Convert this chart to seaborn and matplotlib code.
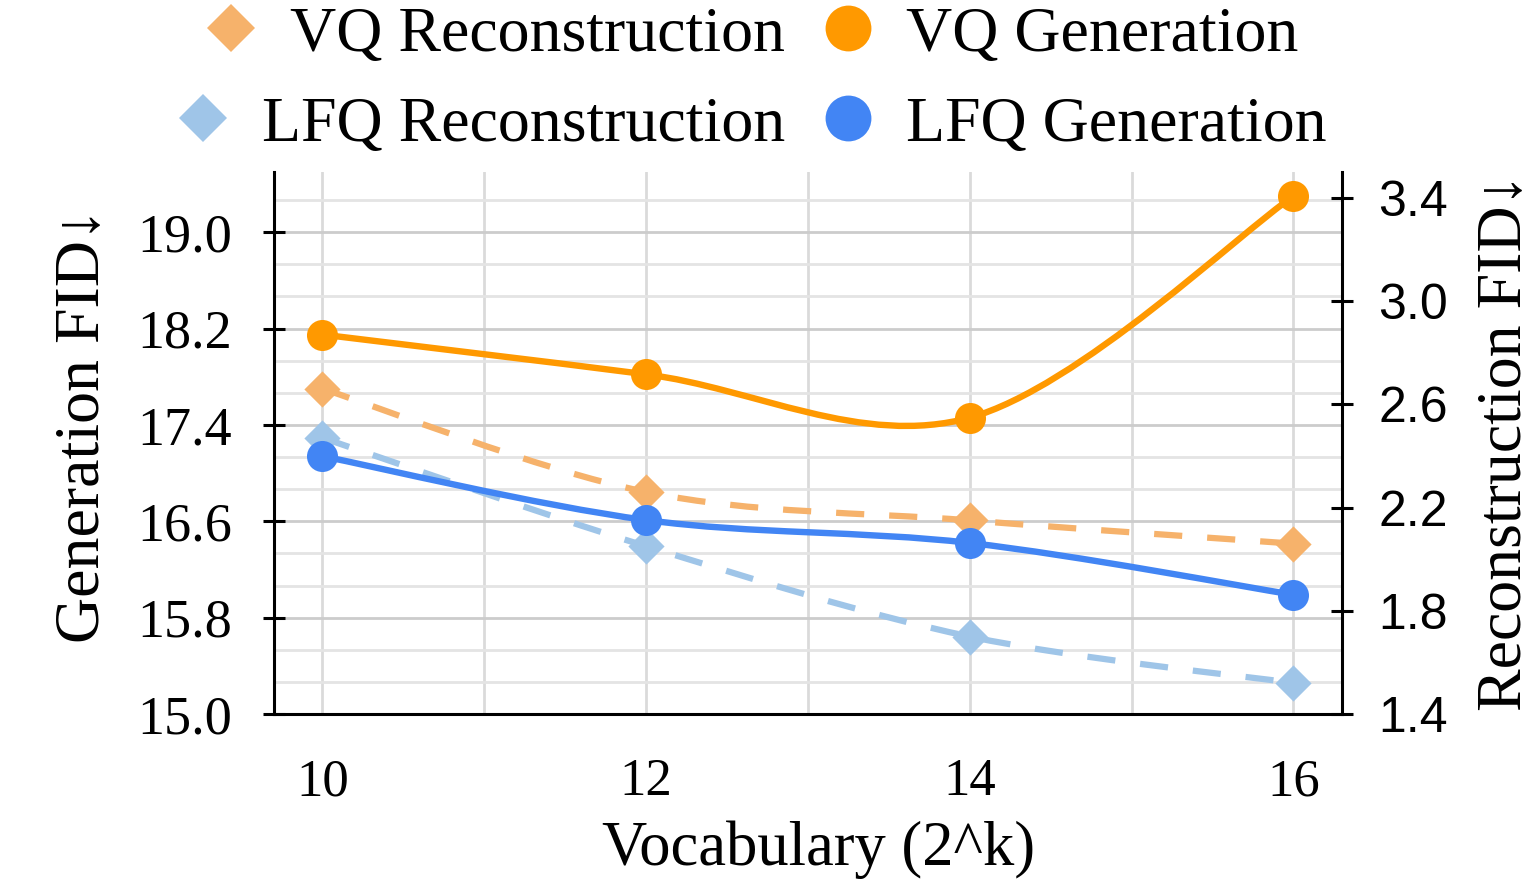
import matplotlib
matplotlib.use("Agg")
import matplotlib.pyplot as plt
from matplotlib.path import Path
from matplotlib.patches import PathPatch
from matplotlib.lines import Line2D
from matplotlib.ticker import AutoMinorLocator
import seaborn as sns

# data
vocab_k = [10, 12, 14, 16]
vq_gen = [18.15, 17.82, 17.46, 19.30]
lfq_gen = [17.14, 16.61, 16.42, 15.99]
vq_rec = [2.66, 2.26, 2.15, 2.06]
lfq_rec = [2.47, 2.05, 1.70, 1.52]

x_ticks = [10, 12, 14, 16]
gen_ticks = [15.0, 15.8, 16.6, 17.4, 18.2, 19.0]
rec_ticks = [1.4, 1.8, 2.2, 2.6, 3.0, 3.4]

colors = {"vq_gen": "#FF9900", "lfq_gen": "#4285F4",
          "vq_rec": "#F6B26B", "lfq_rec": "#9FC5E8"}


def smooth_path(xs, ys):
    # catmull-rom style bezier through the data points (smoothed line)
    verts = [(xs[0], ys[0])]
    codes = [Path.MOVETO]
    n = len(xs)
    for i in range(n - 1):
        xp, yp = (xs[i - 1], ys[i - 1]) if i > 0 else (xs[i], ys[i])
        xn, yn = (xs[i + 2], ys[i + 2]) if i + 2 < n else (xs[i + 1], ys[i + 1])
        c1 = (xs[i] + (xs[i + 1] - xp) / 6, ys[i] + (ys[i + 1] - yp) / 6)
        c2 = (xs[i + 1] - (xn - xs[i]) / 6, ys[i + 1] - (yn - ys[i]) / 6)
        verts += [c1, c2, (xs[i + 1], ys[i + 1])]
        codes += [Path.CURVE4] * 3
    return Path(verts, codes)


sns.set_theme(style="white")
plt.rcParams["font.family"] = ["Liberation Serif", "DejaVu Serif", "DejaVu Sans"]
for key in ["text.color", "axes.labelcolor", "xtick.color", "ytick.color"]:
    plt.rcParams[key] = "black"

fig, ax = plt.subplots(figsize=(15.33, 8.82), dpi=100)
ax.set_position([0.1787, 0.1905, 0.6967, 0.6145])
ax2 = ax.twinx()
ax2.set_position([0.1787, 0.1905, 0.6967, 0.6145])

# reconstruction series live on the right scale, drawn under the generation ones
for ys, key in [(vq_rec, "vq_rec"), (lfq_rec, "lfq_rec")]:
    ax.add_patch(PathPatch(smooth_path(vocab_k, ys), transform=ax2.transData,
                           fill=False, edgecolor=colors[key], lw=4.5,
                           linestyle=(0, (4.5, 4.0)), zorder=3))
    sns.scatterplot(x=vocab_k, y=ys, ax=ax, color=colors[key], marker="D",
                    s=340, linewidth=0, transform=ax2.transData, zorder=4,
                    legend=False)

for ys, key in [(vq_gen, "vq_gen"), (lfq_gen, "lfq_gen")]:
    ax.add_patch(PathPatch(smooth_path(vocab_k, ys), fill=False,
                           edgecolor=colors[key], lw=4.6, joinstyle="round",
                           capstyle="round", zorder=5))
    sns.scatterplot(x=vocab_k, y=ys, ax=ax, color=colors[key], marker="o",
                    s=500, linewidth=0, zorder=6, legend=False)

ax.set_xlim(9.7, 16.3)
ax.set_ylim(15.0, 19.5)
ax2.set_ylim(1.4, 3.5)

# ticks and grid
ax.set_xticks(x_ticks)
ax.set_xticklabels([str(v) for v in x_ticks])
ax.set_yticks(gen_ticks)
ax.set_yticklabels([f"{v:.1f}" for v in gen_ticks])
ax.xaxis.set_minor_locator(AutoMinorLocator(2))
ax.yaxis.set_minor_locator(AutoMinorLocator(3))
ax2.set_yticks(rec_ticks)
ax2.set_yticklabels([f"{v:.1f}" for v in rec_ticks], fontfamily="Liberation Sans")

ax.set_axisbelow(True)
ax.grid(which="major", axis="y", color="#cccccc", lw=2.0)
ax.grid(which="minor", axis="y", color="#e4e4e4", lw=2.0)
ax.grid(which="both", axis="x", color="#dadada", lw=2.0)
ax2.grid(False)

ax.tick_params(which="major", direction="inout", length=16, width=2.2, color="black")
ax.tick_params(which="minor", length=0)
ax.tick_params(axis="x", labelsize=38, pad=24)
ax.tick_params(axis="y", labelsize=39, pad=22)
ax2.tick_params(axis="y", direction="inout", length=16, width=2.2, color="black",
                labelsize=36, pad=18)

for s in ["top", "right"]:
    ax.spines[s].set_visible(False)
for s in ["top", "left", "bottom"]:
    ax2.spines[s].set_visible(False)
for sp in [ax.spines["left"], ax.spines["bottom"], ax2.spines["right"]]:
    sp.set_color("black")
    sp.set_linewidth(2.2)

# axis labels
ax.set_xlabel("Vocabulary (2^k)", fontsize=45)
ax.xaxis.set_label_coords(0.510, -0.251)
ax.xaxis.label.set_va("center")
ax.set_ylabel("Generation FID↓", fontsize=46)
ax.yaxis.set_label_coords(-0.179, 0.533)
ax.yaxis.label.set_va("center")
ax2.set_ylabel("Reconstruction FID↓", fontsize=46, rotation=90)
ax2.yaxis.set_label_coords(1.1526, 0.502)
ax2.yaxis.label.set_va("center")


# legend: one centred row per quantizer
def handle(key, marker, ms):
    return Line2D([], [], marker=marker, color=colors[key], linestyle="none",
                  markersize=ms, markeredgewidth=0)


rows = [
    ([handle("vq_rec", "D", 24), handle("vq_gen", "o", 33)],
     ["VQ Reconstruction", "VQ Generation"], 0.960),
    ([handle("lfq_rec", "D", 24), handle("lfq_gen", "o", 33)],
     ["LFQ Reconstruction", "LFQ Generation"], 0.858),
]
for hs, labels, ypos in rows:
    fig.legend(handles=hs, labels=labels, loc="center", bbox_to_anchor=(0.4886, ypos),
               ncol=2, frameon=False, fontsize=46, handlelength=1.0,
               handletextpad=0.42, columnspacing=0.48, borderpad=0, borderaxespad=0)

plt.savefig("out.png", dpi=100)
plt.close()
